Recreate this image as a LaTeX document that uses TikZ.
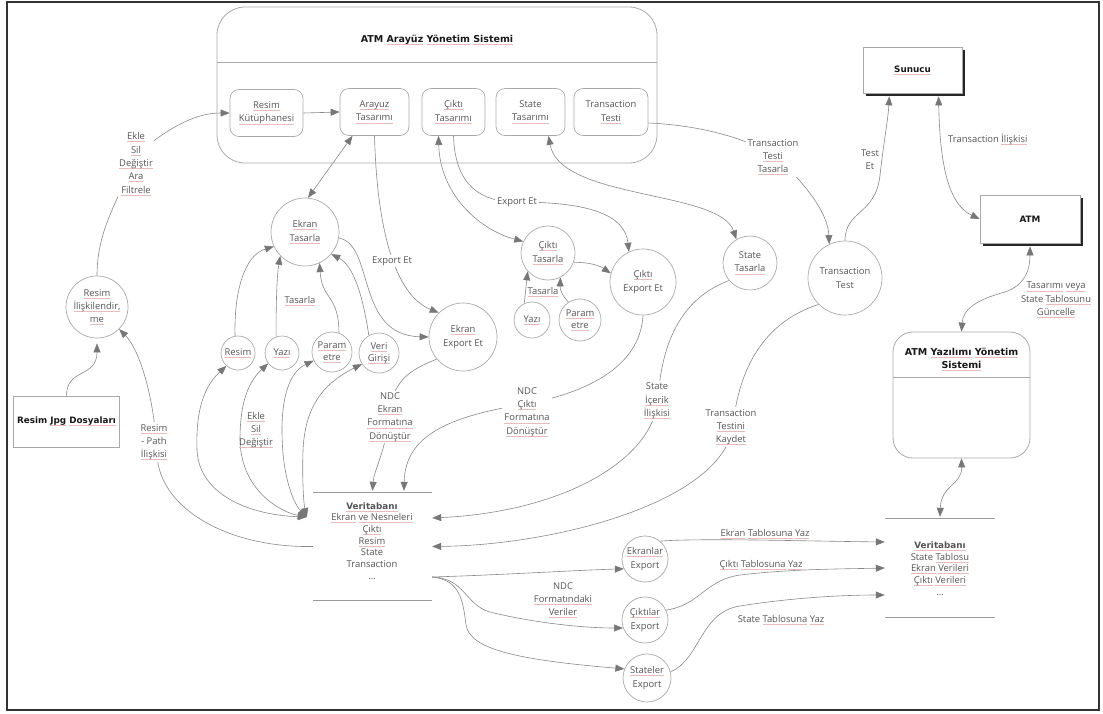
\documentclass[tikz,border=0pt]{standalone}
\usepackage{fontspec}
\setmainfont{Open Sans}
\newfontfamily\headfamily{DejaVu Sans}
\usetikzlibrary{arrows.meta,shadows}

\definecolor{txtc}{HTML}{555555}
\definecolor{nodec}{HTML}{AAAAAA}
\definecolor{linec}{HTML}{888888}
\definecolor{tipc}{HTML}{777777}
\definecolor{sqred}{HTML}{EBBBBB}
\definecolor{storec}{HTML}{9A9A9A}

\newcommand\lblfont{\fontsize{9.4pt}{13.3pt}\selectfont}
\newcommand\dbfont{\fontsize{9.4pt}{11.7pt}\selectfont}
\newcommand\titlefont{\headfamily\fontsize{9.5pt}{13pt}\selectfont\bfseries}
\newcommand\entfont{\headfamily\fontsize{8.8pt}{13pt}\selectfont\bfseries}
% thin reddish underline for flagged words
\newsavebox\sqbox
\newcommand\sq[1]{\sbox\sqbox{#1}\rlap{\textcolor{sqred}{\rule[-2.2pt]{\wd\sqbox}{0.6pt}}}\usebox\sqbox}

\pgfdeclarelayer{edges}
\pgfsetlayers{edges,main}

\tikzset{
  wire/.style={draw=linec, line width=0.6pt},
  flow/.style={wire, -{Triangle[length=9pt,width=7pt,color=tipc]}},
  flow2/.style={wire, {Triangle[length=9pt,width=7pt,color=tipc]}-{Triangle[length=9pt,width=7pt,color=tipc]}},
  txt/.style={font=\lblfont, text=txtc, align=center, inner sep=1pt},
  lab/.style={txt, fill=white, inner sep=2pt},
  proc/.style={circle, draw=nodec, fill=white, line width=0.7pt, inner sep=0pt, txt},
  ibox/.style={rectangle, rounded corners=9pt, draw=nodec, fill=white, line width=0.7pt, txt, minimum height=47pt},
  ent/.style={rectangle, draw=nodec, fill=white, line width=0.7pt, font=\entfont, text=black!90, align=center},
  entshadow/.style={ent, general shadow={fill=black!85, shadow xshift=2.5pt, shadow yshift=-2.5pt}},
  storeline/.style={draw=storec, line width=0.8pt},
  heading/.style={font=\titlefont, text=black!90, align=center, inner sep=1pt},
  dbtext/.style={font=\dbfont, text=txtc, align=center, inner sep=1pt},
}

\begin{document}
\begin{tikzpicture}[x=1pt,y=-1pt]
\path[use as bounding box] (0,0) rectangle (1103,713);
\draw[line width=1.4pt, black!80] (7,2) rectangle (1099,710);

% ---------- ATM Arayuz Yonetim Sistemi ----------
\node[draw=nodec, line width=0.8pt, rounded corners=28pt, minimum width=440pt, minimum height=156pt, inner sep=0pt] (ats) at (437,85) {};
\draw[draw=nodec, line width=0.8pt] (217,62) -- (657,62);
\node[heading] (atsT) at (437,40) {ATM \sq{Arayüz} \sq{Yönetim} \sq{Sistemi}};

\node[ibox, minimum width=73pt] (kut) at (266.5,113) {\sq{Resim}\\\sq{Kütüphanesi}};
\node[ibox, minimum width=69pt] (aray) at (374.5,112) {\sq{Arayuz}\\\sq{Tasarımı}};
\node[ibox, minimum width=63pt] (ciktiT) at (453.5,112) {\sq{Çıktı}\\\sq{Tasarımı}};
\node[ibox, minimum width=69pt] (stateT) at (530.5,112) {State\\\sq{Tasarımı}};
\node[ibox, minimum width=74pt] (trT) at (611,112) {Transaction\\\sq{Testi}};

% ---------- external entities ----------
\node[entshadow, minimum width=99pt, minimum height=46pt] (sunucu) at (912.5,70) {\sq{Sunucu}};
\node[entshadow, minimum width=100pt, minimum height=48pt] (atm) at (1030,219) {ATM};
\node[ent, minimum width=101pt, minimum height=51pt] (jpg) at (66.5,421.5) {Resim \sq{Jpg} \sq{Dosyaları}};

% ---------- ATM Yazilimi Yonetim Sistemi ----------
\node[draw=nodec, line width=0.8pt, fill=white, rounded corners=20pt, minimum width=137pt, minimum height=126pt, inner sep=0pt] (atmYaz) at (961.5,395) {};
\draw[draw=nodec, line width=0.8pt] (893,377) -- (1030,377);
\node[heading] (atmYazT) at (961.5,359.5) {ATM \sq{Yazılımı} \sq{Yönetim}\\\sq{Sistemi}};

% ---------- processes ----------
\node[proc, minimum size=62pt] (resIl) at (97,307) {\sq{Resim}\\\sq{İlişkilendir,}\\\sq{me}};
\node[proc, minimum size=68pt] (ekT) at (305,232) {\sq{Ekran}\\\sq{Tasarla}};
\node[proc, minimum size=34pt] (cResim) at (238,353) {\sq{Resim}};
\node[proc, minimum size=34pt] (cYazi) at (282,353) {\sq{Yazı}};
\node[proc, minimum size=40pt, font=\fontsize{9.4pt}{11.5pt}\selectfont] (cParam) at (332,352) {\sq{Param}\\\sq{etre}};
\node[proc, minimum size=40pt, font=\fontsize{9.4pt}{11.5pt}\selectfont] (cVeri) at (379,353) {\sq{Veri}\\\sq{Girişi}};
\node[proc, minimum size=68pt] (ekExp) at (463,337) {\sq{Ekran}\\Export Et};
\node[proc, minimum size=54pt] (ciktiTs) at (548,253) {\sq{Çıktı}\\\sq{Tasarla}};
\node[proc, minimum size=36pt] (cYazi2) at (532,320) {\sq{Yazı}};
\node[proc, minimum size=42pt, font=\fontsize{9.4pt}{11.5pt}\selectfont] (cParam2) at (580,320) {\sq{Param}\\\sq{etre}};
\node[proc, minimum size=66pt] (ciktiExp) at (643,282) {\sq{Çıktı}\\Export Et};
\node[proc, minimum size=54pt] (stateTs) at (750,263) {State\\\sq{Tasarla}};
\node[proc, minimum size=74pt] (trTest) at (845,278) {Transaction\\Test};
\node[proc, minimum size=46pt] (ekrExp) at (645,559) {\sq{Ekranlar}\\Export};
\node[proc, minimum size=46pt] (cikExp) at (645,620) {\sq{Çıktılar}\\Export};
\node[proc, minimum size=48pt] (stExp) at (647,678) {\sq{Stateler}\\Export};

% ---------- data stores ----------
\node[minimum width=119pt, minimum height=107pt, inner sep=0pt] (db1box) at (372.5,546.5) {};
\draw[storeline] (db1box.north west) -- (db1box.north east);
\draw[storeline] (db1box.south west) -- (db1box.south east);
\node[dbtext] (db1) at (372,541) {{\entfont\sq{Veritabanı}}\\\sq{Ekran} \sq{ve Nesneleri}\\\sq{Çıktı}\\\sq{Resim}\\State\\Transaction\\...};

\node[minimum width=110pt, minimum height=98pt, inner sep=0pt] (db2box) at (940,568) {};
\draw[storeline] (db2box.north west) -- (db2box.north east);
\draw[storeline] (db2box.south west) -- (db2box.south east);
\node[dbtext] (db2) at (940,568.5) {{\entfont\sq{Veritabanı}}\\State \sq{Tablosu}\\\sq{Ekran} \sq{Verileri}\\\sq{Çıktı} \sq{Verileri}\\...};

\coordinate (db1in) at ([shift={(-6pt,29.5pt)}]db1box.west);
\coordinate (db1out) at ([yshift=-30.5pt]db1box.east);

% ---------- labels ----------
\node[txt] (lblEkle) at (136,164) {\sq{Ekle}\\\sq{Sil}\\\sq{Değiştir}\\\sq{Ara}\\\sq{Filtrele}};
\node[lab] (lblPath) at (154,442) {\sq{Resim}\\- Path\\\sq{İlişkisi}};
\node[txt] (lblTasarla1) at (300,301) {\sq{Tasarla}};
\node[txt] (lblEkle2) at (256,430) {\sq{Ekle}\\\sq{Sil}\\\sq{Değiştir}};
\node[lab] (lblExport1) at (392,261) {Export Et};
\node[lab] (lblNDC1) at (390,417) {NDC\\\sq{Ekran}\\\sq{Formatına}\\\sq{Dönüştür}};
\node[lab] (lblExport2) at (517,202) {Export Et};
\node[txt] (lblTasarla2) at (543,292) {\sq{Tasarla}};
\node[lab] (lblNDC2) at (527,412) {NDC\\\sq{Çıktı}\\\sq{Formatına}\\\sq{Dönüştür}};
\node[lab] (lblState) at (657,401) {State\\\sq{İçerik}\\\sq{İlişkisi}};
\node[lab] (lblTrKay) at (731,427) {Transaction\\\sq{Testini}\\\sq{Kaydet}};
\node[lab] (lblTrTas) at (773,157) {Transaction\\\sq{Testi}\\\sq{Tasarla}};
\node[txt] (lblTestEt) at (870,160) {Test\\Et};
\node[txt, anchor=west] (lblTrIl) at (947,139) {Transaction \sq{İlişkisi}};
\node[txt] (lblGunc) at (1056,300) {\sq{Tasarımı} \sq{veya}\\State \sq{Tablosunu}\\\sq{Güncelle}};
\node[txt] (lblNDC3) at (563,600) {NDC\\\sq{Formatındaki}\\\sq{Veriler}};
\node[txt] (lblEkrYaz) at (765,534) {\sq{Ekran} \sq{Tablosuna} \sq{Yaz}};
\node[txt] (lblCikYaz) at (761,565) {\sq{Çıktı} \sq{Tablosuna} \sq{Yaz}};
\node[txt] (lblStYaz) at (781,620) {State \sq{Tablosuna} \sq{Yaz}};

% ---------- connectors ----------
\begin{pgfonlayer}{edges}
\draw[flow, shorten >=5pt] (jpg.north) .. controls (66.5,368) and (97,378) .. (resIl.south);
\draw[wire] (resIl.north) .. controls (97,240) and (110,215) .. (lblEkle.south west);
\draw[flow] ([yshift=-9pt]lblEkle.north east) .. controls (185,118) and (205,113) .. (kut.west);
\draw[flow] (kut.east) -- (aray.west);
\draw[flow2] ([xshift=-22pt]aray.south) -- (ekT.85);
\draw[flow] (aray.south) .. controls (377,230) and (395,295) .. (ekExp.135);
\draw[flow] (ekT.350) .. controls (375,245) and (355,335) .. (ekExp.west);

\draw[flow] (cResim.100) .. controls (234,290) and (245,255) .. (ekT.205);
\draw[flow] (cYazi.110) .. controls (276,300) and (277,275) .. (ekT.224);
\draw[flow] (cParam.70) .. controls (339,295) and (322,300) .. (ekT.295);
\draw[flow] (cVeri.120) .. controls (362,290) and (352,265) .. (ekT.320);

\draw[flow2] (db1in) .. controls (250,515) and (199,495) .. (197,450) .. controls (196,420) and (200,390) .. (cResim.228);
\draw[flow2] (db1in) .. controls (280,512) and (241,490) .. (240,440) .. controls (240,410) and (245,385) .. (cYazi.217);
\draw[flow2] (db1in) .. controls (295,505) and (282,480) .. (282,430) .. controls (282,395) and (290,372) .. (cParam.205);
\draw[flow2] (db1in) .. controls (304,505) and (302,485) .. (303,450) .. controls (305,410) and (320,385) .. (cVeri.213);
\draw[flow] (db1box.west) .. controls (230,548) and (160,510) .. (157,455) .. controls (155,400) and (140,350) .. (resIl.315);

\draw[flow2] ([xshift=-15pt]ciktiT.south) .. controls (440,195) and (480,230) .. (ciktiTs.155);
\draw[flow] (ciktiT.south) .. controls (455,185) and (480,202) .. (517,202) .. controls (590,202) and (625,215) .. (ciktiExp.115);
\draw[flow] (ciktiTs.-20) .. controls (590,262) and (600,266) .. (ciktiExp.165);
\draw[flow] (cYazi2.115) -- (ciktiTs.222);
\draw[flow] (cParam2.123) .. controls (562,295) and (560,290) .. (ciktiTs.297);

\draw[flow2] ([xshift=18pt]stateT.south) .. controls (560,200) and (720,190) .. (stateTs.120);

\draw[flow] ([yshift=-11pt]trT.east) .. controls (700,125) and (760,140) .. (785,165) .. controls (810,190) and (828,215) .. (trTest.115);
\draw[flow, shorten >=3pt] (trTest.north) .. controls (845,210) and (876,215) .. (880,175) .. controls (884,140) and (888,120) .. ([xshift=-23pt]sunucu.south);
\draw[flow2, shorten <=3pt] ([xshift=26pt]sunucu.south) .. controls (940,170) and (950,205) .. (atm.west);
\draw[flow2, shorten <=3pt] (atm.south) .. controls (1030,270) and (1025,285) .. (1005,292) .. controls (975,300) and (963,310) .. (atmYaz.north);
\draw[flow2] (atmYaz.south) .. controls (962,485) and (941,485) .. ([yshift=2pt]db2box.north);

\draw[flow] (ekExp.220) .. controls (410,370) and (392,380) .. (389,417) .. controls (386,450) and (374,470) .. ([yshift=2pt]db1box.north);
\draw[flow] (ciktiExp.south) .. controls (640,370) and (580,395) .. (520,405) .. controls (440,418) and (405,440) .. ([shift={(31.5pt,2pt)}]db1box.north);
\draw[flow] (stateTs.220) .. controls (690,295) and (662,330) .. (658,400) .. controls (652,462) and (560,512) .. ([yshift=28.5pt]db1box.east);
\draw[flow] (trTest.225) .. controls (770,320) and (740,360) .. (733,425) .. controls (725,500) and (560,545) .. (db1box.east);

\draw[flow] (db1out) .. controls (500,575) and (580,570) .. (ekrExp.205);
\draw[flow] (db1out) .. controls (465,578) and (465,605) .. (490,612) .. controls (530,622) and (580,628) .. (cikExp.200);
\draw[flow] (db1out) .. controls (460,580) and (463,600) .. (466,625) .. controls (470,650) and (520,660) .. (stExp.158);

\draw[flow] (ekrExp.50) .. controls (700,538) and (800,541) .. ([yshift=26pt]db2box.west);
\draw[flow] (cikExp.25) .. controls (700,605) and (705,580) .. (740,575) .. controls (790,569) and (840,569) .. (db2box.west);
\draw[flow] (stExp.15) .. controls (700,660) and (700,612) .. (740,606) .. controls (790,598) and (840,595) .. ([yshift=-27pt]db2box.west);
\end{pgfonlayer}
\end{tikzpicture}
\end{document}
